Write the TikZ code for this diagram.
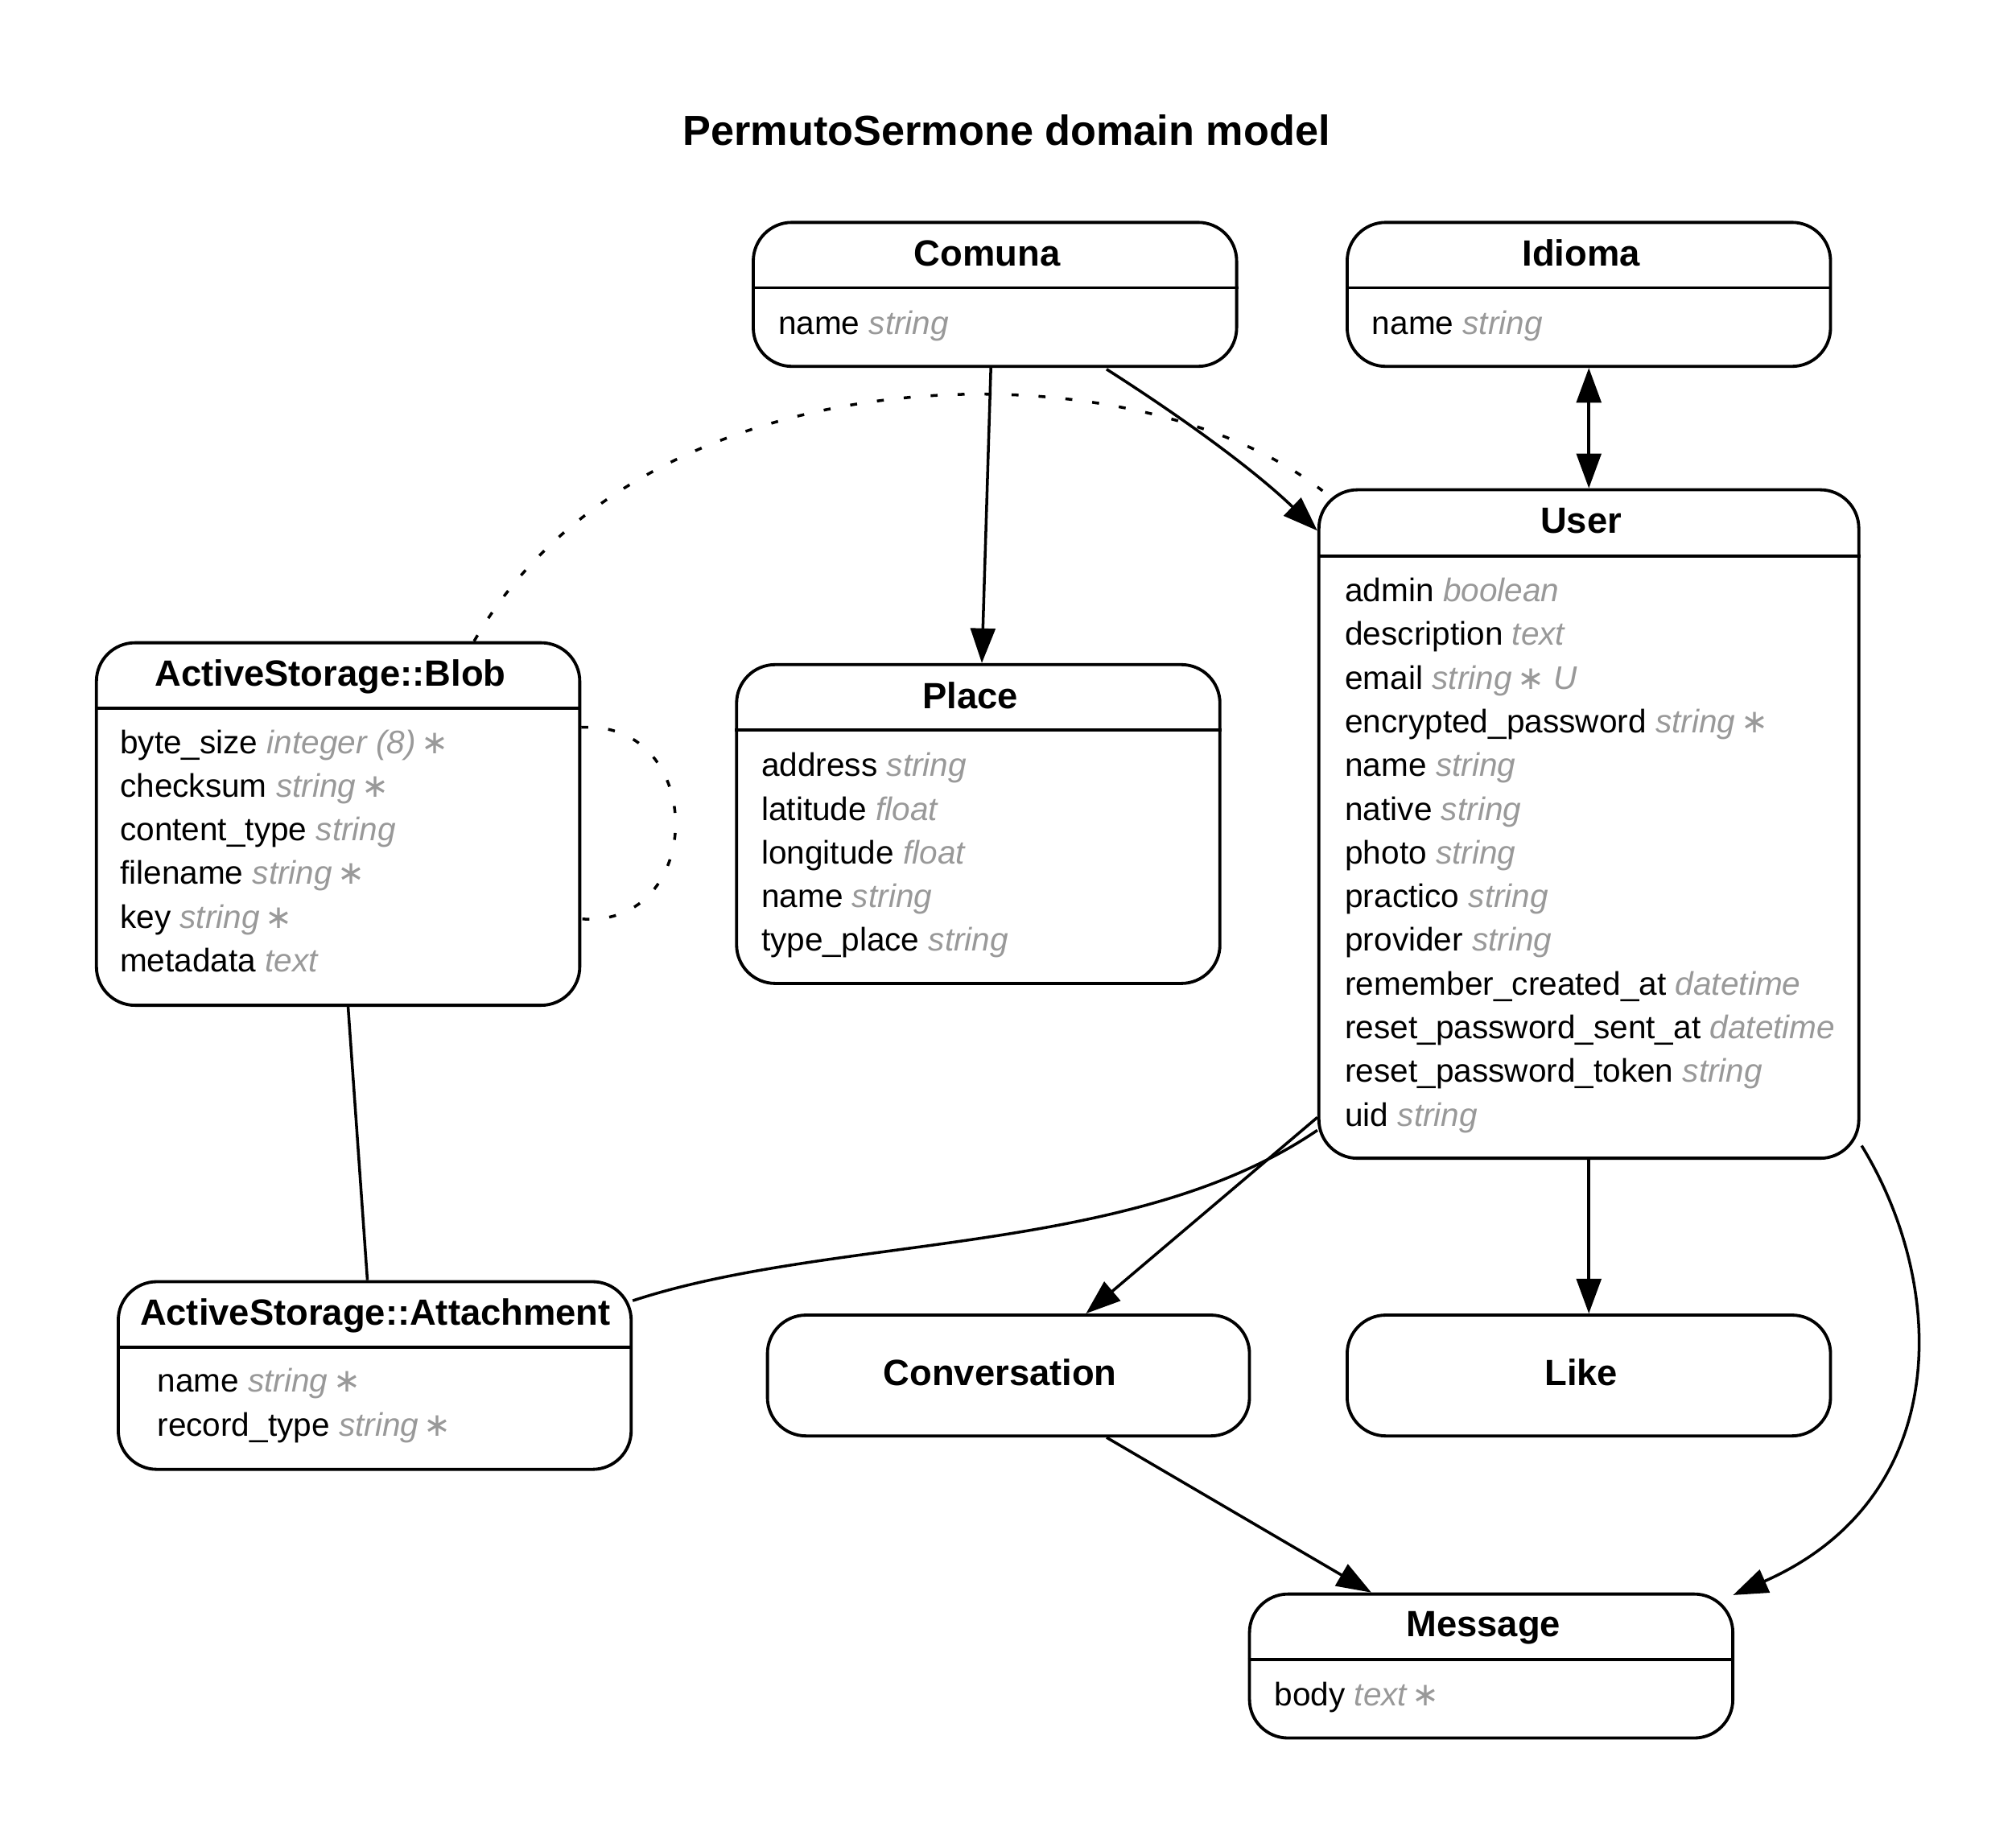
\documentclass[tikz,border=0pt]{standalone}
\usepackage{fontspec}
\setmainfont{Liberation Sans}
\newfontfamily\symfam{DejaVu Sans}
\usetikzlibrary{arrows.meta,fit,calc}
\definecolor{typegray}{HTML}{999999}
\newcommand\ty[1]{{\color{typegray}\itshape #1}}
\newcommand\reqd{{\color{typegray}\,{\symfam ∗}}}
\tikzset{
  entity/.style={draw, line width=1.2pt, rounded corners=15pt, inner sep=0pt},
  ename/.style={anchor=base, inner sep=0pt, font=\fontsize{14.2}{17}\selectfont\bfseries},
  attr/.style={anchor=base west, inner sep=0pt, font=\fontsize{12.7}{17}\selectfont},
  sepline/.style={line width=1.2pt},
  rel/.style={line width=1.1pt},
  arr/.style={rel, -{Triangle[length=13.5pt,width=9.6pt]}},
  biarr/.style={rel, {Triangle[length=13.5pt,width=9.6pt]}-{Triangle[length=13.5pt,width=9.6pt]}},
  dotrel/.style={line width=1.1pt, dash pattern=on 2.7pt off 7.8pt},
}
\begin{document}
\begin{tikzpicture}[x=0.5pt, y=-0.5pt]
\useasboundingbox (0,0) rectangle (1568.3,1430);
\fill[white] (0,0) rectangle (1568.3,1430);

\node[anchor=base, inner sep=0pt, font=\fontsize{16.35}{20}\selectfont\bfseries] (title) at (783,113) {PermutoSermone domain model};

% entity boxes
\node[entity, fit={(586,173) (962,285)}] (comuna) {};
\node[entity, fit={(1048,173) (1424,285)}] (idioma) {};
\node[entity, fit={(1026,381) (1446,901)}] (user) {};
\node[entity, fit={(75,500) (451,782)}] (blob) {};
\node[entity, fit={(573,517) (949,765)}] (place) {};
\node[entity, fit={(92,997) (491,1143)}] (attach) {};
\node[entity, fit={(597,1023) (972,1117)}] (conv) {};
\node[entity, fit={(1048,1023) (1424,1117)}] (like) {};
\node[entity, fit={(972,1240) (1348,1352)}] (message) {};

% header separators
\foreach \b in {comuna,idioma,blob,place,attach,message}
  \draw[sepline] ($(\b.north west)+(0,52)$) -- ($(\b.north east)+(0,52)$);
\draw[sepline] ($(user.north west)+(0,53)$) -- ($(user.north east)+(0,53)$);

% entity names
\node[ename] (comuna-t) at (768,207) {Comuna};
\node[ename] (idioma-t) at (1230,207) {Idioma};
\node[ename] (user-t) at (1230,415) {User};
\node[ename] (blob-t) at (257,534) {ActiveStorage::Blob};
\node[ename] (place-t) at (755,551) {Place};
\node[ename] (attach-t) at (292,1031) {ActiveStorage::Attachment};
\node[ename] (conv-t) at (778,1078) {Conversation};
\node[ename] (like-t) at (1230,1078) {Like};
\node[ename] (message-t) at (1154,1273) {Message};

% attributes
\node[attr] (comuna-a) at (605,260) {name \ty{string}};
\node[attr] (idioma-a) at (1067,260) {name \ty{string}};
\foreach \t [count=\i from 0] in {
  {admin \ty{boolean}},
  {description \ty{text}},
  {email \ty{string}\reqd\ \ty{U}},
  {encrypted\_password \ty{string}\reqd},
  {name \ty{string}},
  {native \ty{string}},
  {photo \ty{string}},
  {practico \ty{string}},
  {provider \ty{string}},
  {remember\_created\_at \ty{datetime}},
  {reset\_password\_sent\_at \ty{datetime}},
  {reset\_password\_token \ty{string}},
  {uid \ty{string}}}
  \node[attr] (user-a\i) at (1046,{468+34*\i}) {\t};
\foreach \t [count=\i from 0] in {
  {byte\_size \ty{integer (8)}\reqd},
  {checksum \ty{string}\reqd},
  {content\_type \ty{string}},
  {filename \ty{string}\reqd},
  {key \ty{string}\reqd},
  {metadata \ty{text}}}
  \node[attr] (blob-a\i) at (93,{586+34*\i}) {\t};
\foreach \t [count=\i from 0] in {
  {address \ty{string}},
  {latitude \ty{float}},
  {longitude \ty{float}},
  {name \ty{string}},
  {type\_place \ty{string}}}
  \node[attr] (place-a\i) at (592,{604+34*\i}) {\t};
\foreach \t [count=\i from 0] in {
  {name \ty{string}\reqd},
  {record\_type \ty{string}\reqd}}
  \node[attr] (attach-a\i) at (122,{1083+34*\i}) {\t};
\node[attr] (message-a) at (991,1327) {body\ \ty{text}\reqd};

% relations
\draw[arr] ($(comuna.south west)+(186,0)$) -- ($(place.north west)+(192,0)$);
\draw[arr] ($(comuna.south west)+(276,1)$) .. controls (920,325) and (975,365) .. ($(user.north west)+(0,33)$);
\draw[biarr] (idioma.south) -- (user.north);
\draw[dotrel] ($(blob.north west)+(295,0)$) .. controls (500,270) and (880,265) .. ($(user.north west)+(4,2)$);
\draw[dotrel] ($(blob.north east)+(0,67)$) .. controls (550,560) and (550,722) .. ($(blob.north east)+(0,216)$);
\draw[rel] ($(blob.south west)+(197,0)$) -- ($(attach.north west)+(195,0)$);
\draw[rel] ($(user.south west)+(0,-23)$) .. controls (880,978) and (650,960) .. ($(attach.north east)+(0,16)$);
\draw[arr] ($(user.south west)+(0,-33)$) -- ($(conv.north west)+(249,0)$);
\draw[arr] (user.south) -- (like.north);
\draw[arr] ($(user.south east)+(1,-11)$) .. controls (1515,1000) and (1520,1165) .. ($(message.north east)+(-1,2)$);
\draw[arr] ($(conv.south west)+(265,0)$) -- ($(message.north west)+(96,0)$);
\end{tikzpicture}
\end{document}
